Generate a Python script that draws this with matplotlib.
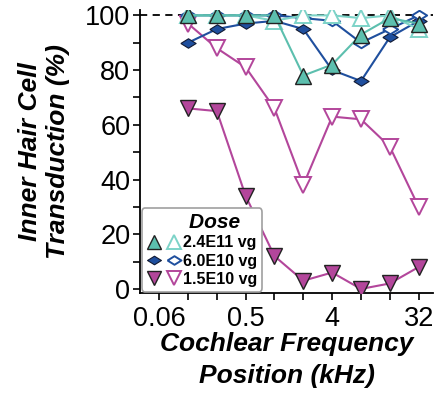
import matplotlib.pyplot as plt
from matplotlib.ticker import FixedLocator, NullFormatter
from matplotlib.legend_handler import HandlerTuple
from matplotlib.lines import Line2D

plt.rcParams['font.family'] = ['Liberation Sans', 'DejaVu Sans']

# cochlear frequency positions (kHz)
freq = [0.125, 0.25, 0.5, 1, 2, 4, 8, 16, 32]

# transduction (%), filled = one group, open = other group
hi_filled = [100, 100, 100, 100, 78, 82, 93, 99, 97]
hi_open = [100, 100, 100, 98, 100, 100, 99, 100, 95]
mid_filled = [90, 95, 97, 98, 95, 80, 76, 92, 98]
mid_open = [100, 100, 100, 100, 99, 98, 90, 95, 100]
lo_filled = [66, 65, 34, 12, 3, 6, 0, 2, 8]
lo_open = [97, 88, 81, 66, 38, 63, 62, 52, 30]

dose_labels = ['2.4E11 vg', '6.0E10 vg', '1.5E10 vg']
xtick_vals = [0.0625, 0.5, 4, 32]
xtick_labels = ['0.06', '0.5', '4', '32']

teal = '#5cbfae'
teal_open = '#7dd3c8'
blue = '#1f4f9e'
pink = '#b3469b'
diamond = [(-1, 0), (0, 0.62), (1, 0), (0, -0.62), (-1, 0)]

fig = plt.figure(figsize=(4.35, 3.96), dpi=100)
ax = fig.add_axes([0.322, 0.26, 0.673, 0.715])

ax.axhline(100, color='black', lw=1.3, ls=(0, (4, 3)), zorder=1)

ax.plot(freq, lo_open, color=pink, lw=1.5, marker='v', ms=11, mfc='white', mec=pink, mew=1.4, zorder=2)
ax.plot(freq, lo_filled, color=pink, lw=1.5, marker='v', ms=11, mfc=pink, mec='#222222', mew=1.0, zorder=3)
ax.plot(freq, mid_filled, color=blue, lw=1.5, marker=diamond, ms=11, mfc=blue, mec='#111a33', mew=0.8, zorder=4)
ax.plot(freq, mid_open, color=blue, lw=1.5, marker=diamond, ms=11, mfc='white', mec=blue, mew=1.4, zorder=5)
ax.plot(freq, hi_open, color=teal_open, lw=1.5, marker='^', ms=11, mfc='white', mec=teal_open, mew=1.4, zorder=6)
ax.plot(freq, hi_filled, color=teal, lw=1.5, marker='^', ms=11, mfc=teal, mec='#222222', mew=1.0, zorder=7)

ax.set_xscale('log', base=2)
ax.set_xlim(0.0395, 45)
ax.set_ylim(-1.5, 102)
ax.xaxis.set_major_locator(FixedLocator(xtick_vals))
ax.set_xticklabels(xtick_labels)
ax.xaxis.set_minor_locator(FixedLocator([0.125, 0.25, 1, 2, 8, 16]))
ax.xaxis.set_minor_formatter(NullFormatter())
ax.set_yticks([0, 20, 40, 60, 80, 100])
ax.yaxis.set_minor_locator(FixedLocator([10, 30, 50, 70, 90]))

for s in ['top', 'right']:
    ax.spines[s].set_visible(False)
for s in ['left', 'bottom']:
    ax.spines[s].set_linewidth(1.3)
ax.tick_params(which='both', direction='out', width=1.2, length=5, labelsize=19.5, pad=2)
ax.tick_params(axis='x', pad=4)

ax.set_ylabel('Inner Hair Cell\nTransduction (%)', fontsize=19, fontweight='bold',
              fontstyle='italic', labelpad=11, linespacing=1.2)
ax.set_xlabel('Cochlear Frequency\nPosition (kHz)', fontsize=19, fontweight='bold',
              fontstyle='italic', labelpad=0, linespacing=1.45)

def mk(m, fc, ec, mew):
    return Line2D([], [], ls='none', marker=m, ms=10, mfc=fc, mec=ec, mew=mew)

handles = [
    (mk('^', teal, '#222222', 1.0), mk('^', 'white', teal_open, 1.4)),
    (mk(diamond, blue, '#111a33', 0.8), mk(diamond, 'white', blue, 1.4)),
    (mk('v', pink, '#222222', 1.0), mk('v', 'white', pink, 1.4)),
]
leg = ax.legend(handles, dose_labels, handler_map={tuple: HandlerTuple(ndivide=None, pad=0.4)},
                loc='lower left', bbox_to_anchor=(0.005, 0.005), title='Dose   ',
                prop={'size': 11.5, 'weight': 'bold'}, handlelength=2.2, handletextpad=0.1,
                labelspacing=0.2, borderpad=0.3, borderaxespad=0.0, fancybox=True, framealpha=1,
                edgecolor='#a0a0a0')
leg.get_title().set_fontweight('bold')
leg.get_title().set_fontstyle('italic')
leg.get_title().set_fontsize(15)
leg._legend_box.align = 'right'
leg.get_frame().set_linewidth(1.2)
leg.set_zorder(10)

fig.savefig('out.png', dpi=100)
